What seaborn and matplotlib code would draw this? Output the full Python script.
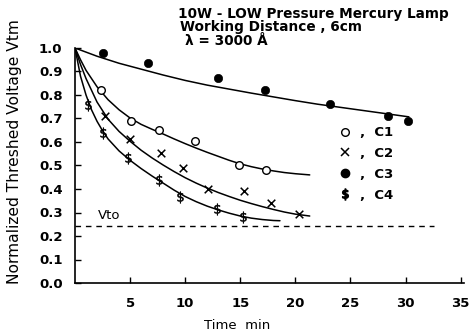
import matplotlib
matplotlib.use("Agg")
import matplotlib.pyplot as plt
from matplotlib.lines import Line2D
import seaborn as sns

# Measured points (time in min, normalized threshold voltage)
c1_t = [2.4, 5.1, 7.6, 10.9, 14.9, 17.3]
c1_v = [0.82, 0.69, 0.653, 0.606, 0.502, 0.481]

c2_t = [2.7, 5.0, 7.8, 9.8, 12.1, 15.3, 17.8, 20.3]
c2_v = [0.711, 0.611, 0.554, 0.488, 0.399, 0.393, 0.342, 0.292]

c3_t = [2.5, 6.6, 12.95, 17.2, 23.1, 28.4, 30.2]
c3_v = [0.98, 0.937, 0.871, 0.821, 0.76, 0.71, 0.69]

c4_t = [1.2, 2.5, 4.8, 7.6, 9.55, 12.9, 15.2]
c4_v = [0.757, 0.637, 0.53, 0.437, 0.365, 0.314, 0.282]

# Fitted decay curves
fit1_t = [0, 0.5, 1, 2, 3, 4, 5, 6, 7, 8, 9, 10, 11, 12, 13, 14, 15, 16, 17, 18, 19, 20, 21.3]
fit1_v = [1.0, 0.95, 0.905, 0.835, 0.78, 0.737, 0.702, 0.675, 0.654, 0.634, 0.613, 0.593, 0.574,
          0.556, 0.539, 0.522, 0.507, 0.495, 0.485, 0.477, 0.47, 0.465, 0.46]

fit2_t = [0, 0.5, 1, 2, 3, 4, 5, 6, 7, 8, 9, 10, 11, 12, 13, 14, 15, 16, 17, 18, 19, 20, 21.3]
fit2_v = [1.0, 0.93, 0.87, 0.77, 0.697, 0.645, 0.603, 0.565, 0.532, 0.502, 0.474, 0.448, 0.425,
          0.404, 0.385, 0.368, 0.352, 0.338, 0.325, 0.313, 0.302, 0.293, 0.285]

fit3_t = [0, 2, 4, 6, 8, 10, 12, 14, 16, 18, 20, 22, 24, 26, 28, 30.3]
fit3_v = [1.0, 0.965, 0.935, 0.91, 0.885, 0.862, 0.842, 0.825, 0.808, 0.792, 0.776, 0.761,
          0.748, 0.735, 0.722, 0.707]

fit4_t = [0, 0.5, 1, 1.5, 2, 2.5, 3, 4, 5, 6, 7, 8, 9, 10, 11, 12, 13, 14, 15, 16, 17, 18, 18.6]
fit4_v = [1.0, 0.88, 0.80, 0.737, 0.688, 0.648, 0.613, 0.562, 0.522, 0.487, 0.455, 0.425, 0.395,
          0.368, 0.346, 0.327, 0.311, 0.297, 0.285, 0.276, 0.27, 0.266, 0.265]

vto_level = 0.243
vto_span = [0, 32.6]

x_ticks = [5, 10, 15, 20, 25, 30, 35]
y_ticks = [0.0, 0.1, 0.2, 0.3, 0.4, 0.5, 0.6, 0.7, 0.8, 0.9, 1.0]
series_labels = ["C1", "C2", "C3", "C4"]

sns.set_style("ticks")
plt.rcParams["font.family"] = ["DejaVu Sans"]
plt.rcParams["text.color"] = "black"
plt.rcParams["axes.labelcolor"] = "black"

fig = plt.figure(figsize=(4.71, 3.34), dpi=100)
ax = fig.add_axes([75 / 471, 1 - 283 / 334, 389 / 471, 235 / 334])

line_kw = dict(color="black", linewidth=1.1, estimator=None, sort=False, ax=ax)
for t, v in [(fit1_t, fit1_v), (fit2_t, fit2_v), (fit3_t, fit3_v), (fit4_t, fit4_v)]:
    sns.lineplot(x=t, y=v, **line_kw)

ax.plot(vto_span, [vto_level, vto_level], color="black", linewidth=1.0,
        linestyle=(0, (4, 3.5)))
ax.text(2.1, vto_level + 0.016, "Vto", fontsize=9.5, ha="left", va="bottom")

sns.scatterplot(x=c1_t, y=c1_v, marker="o", s=30, facecolor="white",
                edgecolor="black", linewidth=1.0, ax=ax, zorder=3, clip_on=False)
sns.scatterplot(x=c2_t, y=c2_v, marker="x", s=30, color="black",
                linewidth=1.1, ax=ax, zorder=3, clip_on=False)
sns.scatterplot(x=c3_t, y=c3_v, marker="o", s=36, color="black",
                edgecolor="black", ax=ax, zorder=3, clip_on=False)
sns.scatterplot(x=c4_t, y=c4_v, marker=r"$\$$", s=70, color="black",
                edgecolor="black", linewidth=0.4, ax=ax, zorder=3, clip_on=False)

ax.set_xlim(0, 35.3)
ax.set_ylim(0, 1.0)
ax.set_xticks(x_ticks)
ax.set_xticklabels([str(t) for t in x_ticks], fontsize=9.5, fontweight="bold")
ax.set_yticks(y_ticks)
ax.set_yticklabels([f"{t:.1f}" for t in y_ticks], fontsize=9.5, fontweight="bold")
ax.tick_params(axis="both", direction="in", length=4, width=1.0, colors="black")
ax.tick_params(axis="y", pad=9)
ax.tick_params(axis="x", pad=10)
for side in ("top", "right"):
    ax.spines[side].set_visible(False)
for side in ("left", "bottom"):
    ax.spines[side].set_linewidth(1.2)
    ax.spines[side].set_color("black")

ax.set_ylabel("Normalized Threshed Voltage Vtm", fontsize=11.2, color="black")
ax.yaxis.set_label_coords(-0.135, 0.56)
ax.set_xlabel("Time  min", fontsize=9.5, color="black")
ax.xaxis.set_label_coords(0.418, -0.155)

handles = [
    Line2D([], [], linestyle="none", marker="o", markersize=5.5,
           markerfacecolor="white", markeredgecolor="black", markeredgewidth=1.0),
    Line2D([], [], linestyle="none", marker="x", markersize=5.5,
           color="black", markeredgewidth=1.1),
    Line2D([], [], linestyle="none", marker="o", markersize=6,
           color="black"),
    Line2D([], [], linestyle="none", marker=r"$\$$", markersize=8,
           color="black"),
]
ax.legend(handles, [f",  {s}" for s in series_labels], loc="upper left",
          bbox_to_anchor=(0.668, 0.69), frameon=False, handlelength=0.8,
          handletextpad=0.7, labelspacing=0.6, borderaxespad=0,
          prop={"size": 9.5, "weight": "bold"})

title_lines = ["10W - LOW Pressure Mercury Lamp",
               "Working Distance , 6cm",
               "\u03bb = 3000 \u00c5"]
fig.text(178 / 471, 1 - 14 / 334, title_lines[0], fontsize=9.8, fontweight="bold",
         ha="left", va="center")
fig.text(180 / 471, 1 - 27 / 334, title_lines[1], fontsize=9.8, fontweight="bold",
         ha="left", va="center")
fig.text(185 / 471, 1 - 41 / 334, title_lines[2], fontsize=9.8, fontweight="bold",
         ha="left", va="center")

fig.savefig("out.png", dpi=100, facecolor="white")
